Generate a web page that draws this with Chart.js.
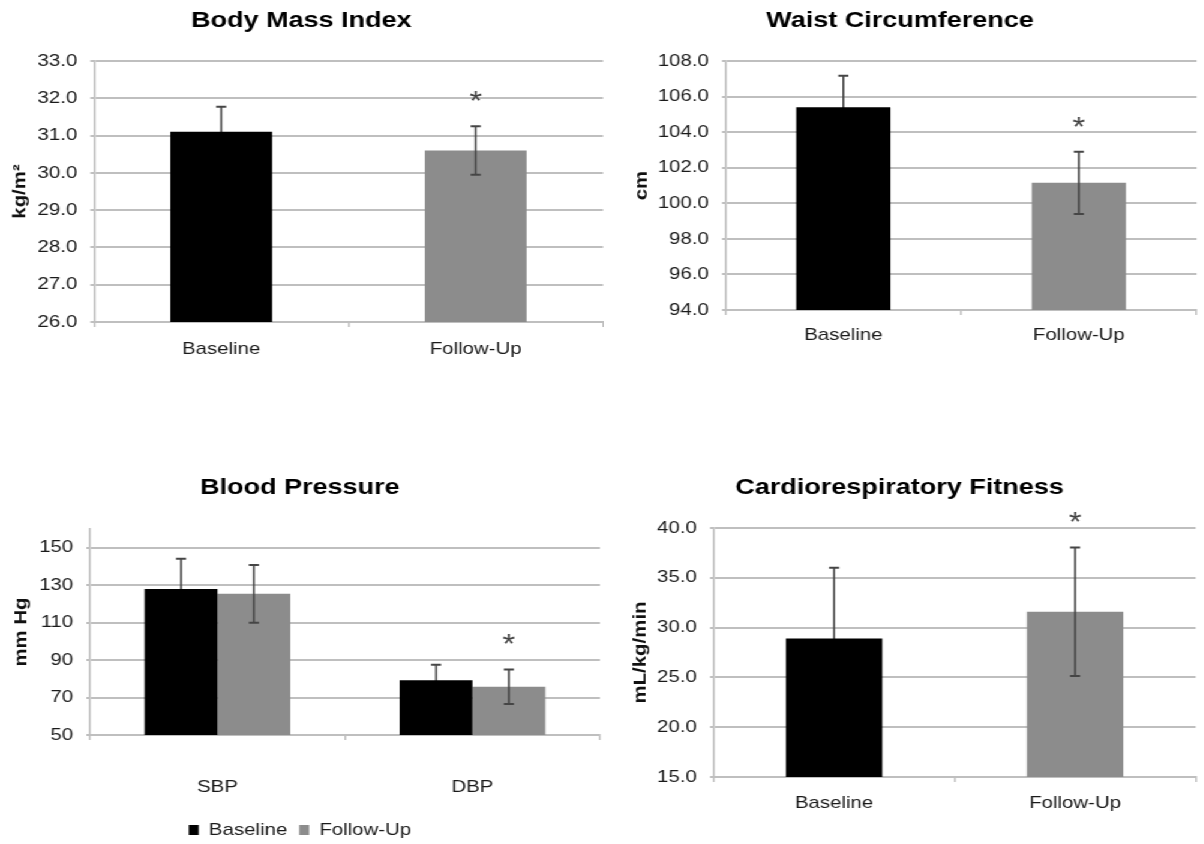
<!DOCTYPE html>
<html>
<head>
<meta charset="utf-8">
<title>Outcomes at baseline and follow-up</title>
<script src="https://cdn.jsdelivr.net/npm/chart.js@4.4.1/dist/chart.umd.min.js"></script>
<style>
  html, body { margin: 0; padding: 0; background: #fff; overflow: hidden; }
  /* the source figure has wide lettering; draw narrow and stretch sideways */
  #stage { position: absolute; left: 0; top: 0; width: 1003.4px; height: 844px; transform: scaleX(1.2); transform-origin: 0 0; }
  .box { position: absolute; }
</style>
</head>
<body>
<div id="stage">
  <div class="box" id="boxBmi"><canvas id="bmi"></canvas></div>
  <div class="box" id="boxWaist"><canvas id="waist"></canvas></div>
  <div class="box" id="boxBp"><canvas id="bp"></canvas></div>
  <div class="box" id="boxFit"><canvas id="fit"></canvas></div>
</div>
<script>
const groups = ['Baseline', 'Follow-Up'];

const bmiMeans = [31.1, 30.6];
const bmiErr = [0.67, 0.65];
const bmiStar = [false, true];
const bmiTicks = [26, 27, 28, 29, 30, 31, 32, 33];

const waistMeans = [105.4, 101.15];
const waistErr = [1.77, 1.75];
const waistStar = [false, true];
const waistTicks = [94, 96, 98, 100, 102, 104, 106, 108];

const bpCats = ['SBP', 'DBP'];
const bpBaseline = [127.9, 79.2];
const bpBaselineErr = [16.2, 8.3];
const bpFollowUp = [125.4, 75.8];
const bpFollowUpErr = [15.4, 9.2];
const bpFollowUpStar = [false, true];
const bpTicks = [50, 70, 90, 110, 130, 150];

const fitMeans = [28.9, 31.6];
const fitErr = [7.1, 6.45];
const fitStar = [false, true];
const fitTicks = [15, 20, 25, 30, 35, 40];

const K = 1.2;               // sideways stretch of the stage
const FONT = '"Liberation Sans", Arial, Helvetica, sans-serif';
const BLACK = '#000000', GREY = '#8c8c8c', GRID = '#bfbfbf', INK = '#1a1a1a';

Chart.defaults.font.family = FONT;
Chart.defaults.animation = false;

function place(id, left, top, width, height){
  const el = document.getElementById(id);
  Object.assign(el.style, { left: left / K + 'px', top: top + 'px', width: width / K + 'px', height: height + 'px' });
}

// error bars (behind black bars, over the others) and significance marks
function drawErrors(chart, behind){
  const { ctx } = chart;
  const ys = chart.scales.y;
  chart.data.datasets.forEach((ds, i) => {
    if (!ds.errors) return;
    chart.getDatasetMeta(i).data.forEach((bar, j) => {
      const fill = Array.isArray(ds.backgroundColor) ? ds.backgroundColor[j] : ds.backgroundColor;
      if ((fill === BLACK) !== behind) return;
      const v = ds.data[j], e = ds.errors[j];
      const top = ys.getPixelForValue(v + e), bot = ys.getPixelForValue(v - e);
      const cap = 4.2;
      ctx.save();
      ctx.strokeStyle = '#454545';
      ctx.lineWidth = 1.6;
      ctx.beginPath(); ctx.moveTo(bar.x, top); ctx.lineTo(bar.x, bot); ctx.stroke();
      ctx.lineWidth = 2;
      ctx.beginPath();
      ctx.moveTo(bar.x - cap, top); ctx.lineTo(bar.x + cap, top);
      ctx.moveTo(bar.x - cap, bot); ctx.lineTo(bar.x + cap, bot);
      ctx.stroke();
      if (ds.stars && ds.stars[j]) {
        ctx.font = '27px ' + FONT;
        ctx.fillStyle = '#444';
        ctx.textAlign = 'center';
        ctx.textBaseline = 'alphabetic';
        ctx.fillText('*', bar.x, top - 16);
      }
      ctx.restore();
    });
  });
}

const errorBars = {
  id: 'errorBars',
  beforeDatasetsDraw(chart){ drawErrors(chart, true); },
  afterDatasetsDraw(chart){ drawErrors(chart, false); }
};

// rotated y title, counter-stretched so it reads like the source
const yTitle = {
  id: 'yTitle',
  afterDraw(chart, args, opts){
    if (!opts.text) return;
    const { ctx, chartArea } = chart;
    ctx.save();
    ctx.translate(opts.x / K, (chartArea.top + chartArea.bottom) / 2);
    ctx.scale(1 / K, K);
    ctx.rotate(-Math.PI / 2);
    ctx.font = 'bold 17px ' + FONT;
    ctx.fillStyle = '#111';
    ctx.textAlign = 'center';
    ctx.textBaseline = 'middle';
    ctx.fillText(opts.text, 0, 0);
    ctx.restore();
  }
};

function makeChart(id, o){
  return new Chart(document.getElementById(id), {
    type: 'bar',
    data: { labels: o.labels, datasets: o.datasets },
    plugins: [errorBars, yTitle],
    options: {
      responsive: true,
      maintainAspectRatio: false,
      layout: { padding: { left: 0, right: o.padRight / K, top: 0, bottom: o.padBottom || 0 } },
      datasets: { bar: { categoryPercentage: o.catPct, barPercentage: o.barPct, borderWidth: 0 } },
      plugins: {
        title: {
          display: true, text: o.title, color: '#000',
          font: { size: 22.5, weight: 'bold' },
          padding: { top: o.titleTop, bottom: o.titleBottom }
        },
        legend: o.legend || { display: false },
        tooltip: { enabled: false },
        yTitle: { text: o.yLabel, x: o.yLabelX }
      },
      scales: {
        x: {
          grid: { display: true, drawOnChartArea: false, drawTicks: true, tickLength: 5, color: GRID, lineWidth: 1.5, offset: true },
          border: { display: true, color: GRID, width: 2 },
          ticks: { color: INK, font: { size: 17 }, padding: o.xPad },
          afterFit: s => { s.height = o.xHeight; }
        },
        y: {
          min: o.ticks[0], max: o.max,
          afterBuildTicks: s => { s.ticks = o.ticks.map(v => ({ value: v })); },
          grid: { color: GRID, lineWidth: 2, tickLength: 3, drawTicks: true },
          border: { display: true, color: GRID, width: 1.6 },
          ticks: { color: INK, font: { size: 17 }, padding: 11, callback: v => o.decimals ? v.toFixed(1) : String(v) },
          afterFit: s => { s.width = o.yWidth / K; }
        }
      }
    }
  });
}

place('boxBmi', 0, 0, 604, 422);
place('boxWaist', 604, 0, 600, 422);
place('boxBp', 0, 422, 604, 430);
place('boxFit', 604, 422, 600, 422);

makeChart('bmi', {
  title: 'Body Mass Index', yLabel: 'kg/m\u00B2', yLabelX: 20,
  labels: groups,
  datasets: [{ data: bmiMeans, errors: bmiErr, stars: bmiStar, backgroundColor: [BLACK, GREY] }],
  ticks: bmiTicks, max: 33, decimals: 1,
  catPct: 1, barPct: 0.4,
  yWidth: 94, padRight: 1, titleTop: 7, titleBottom: 27, xHeight: 100, xPad: 12.3
});

makeChart('waist', {
  title: 'Waist Circumference', yLabel: 'cm', yLabelX: 38,
  labels: groups,
  datasets: [{ data: waistMeans, errors: waistErr, stars: waistStar, backgroundColor: [BLACK, GREY] }],
  ticks: waistTicks, max: 108, decimals: 1,
  catPct: 1, barPct: 0.4,
  yWidth: 122, padRight: 7, titleTop: 7.5, titleBottom: 26.5, xHeight: 112, xPad: 9.8
});

makeChart('bp', {
  title: 'Blood Pressure', yLabel: 'mm Hg', yLabelX: 22,
  labels: bpCats,
  datasets: [
    { label: 'Baseline', data: bpBaseline, errors: bpBaselineErr, backgroundColor: BLACK },
    { label: 'Follow-Up', data: bpFollowUp, errors: bpFollowUpErr, stars: bpFollowUpStar, backgroundColor: GREY }
  ],
  ticks: bpTicks, max: 160, decimals: 0,
  catPct: 2 / 3.5, barPct: 1,
  yWidth: 90, padRight: 4, titleTop: 52.5, titleBottom: 27.5, xHeight: 76.5, xPad: 36.8, padBottom: 3.5,
  legend: {
    display: true, position: 'bottom',
    labels: { boxWidth: 8.3, boxHeight: 10, padding: 10, color: INK, font: { size: 17 } }
  }
});

makeChart('fit', {
  title: 'Cardiorespiratory Fitness', yLabel: 'mL/kg/min', yLabelX: 37,
  labels: groups,
  datasets: [{ data: fitMeans, errors: fitErr, stars: fitStar, backgroundColor: [BLACK, GREY] }],
  ticks: fitTicks, max: 40, decimals: 1,
  catPct: 1, barPct: 0.4,
  yWidth: 110, padRight: 8, titleTop: 52, titleBottom: 27, xHeight: 67, xPad: 11.5
});
</script>
</body>
</html>
